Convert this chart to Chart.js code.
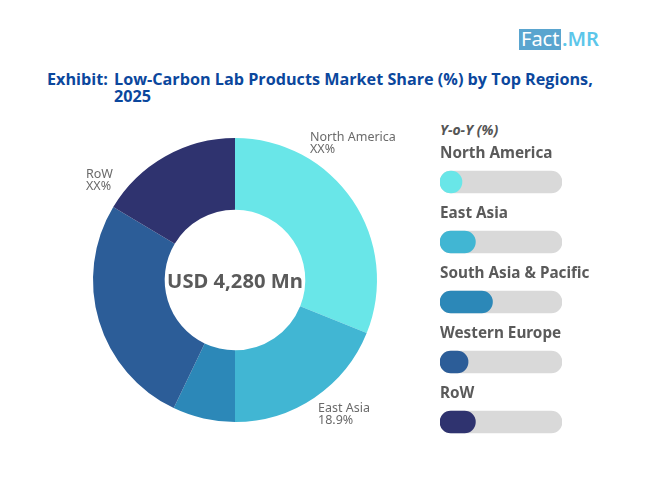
<!DOCTYPE html>
<html>
<head>
<meta charset="utf-8">
<script src="https://cdn.jsdelivr.net/npm/chart.js@4"></script>
<style>
  html, body { margin: 0; padding: 0; background: #fff; }
  body { width: 650px; height: 488px; position: relative; overflow: hidden; font-family: "Open Sans", sans-serif; }
  canvas { position: absolute; }
  .title { position: absolute; color: #0B479D; font-weight: 700; font-size: 16.2px; line-height: 17px; white-space: nowrap; }
  .logo-box { position: absolute; left: 519px; top: 29px; width: 42px; height: 21px; background: #5AA5CF; }
  .logo { position: absolute; top: 27px; font-size: 20px; line-height: 24px; font-family: "Noto Sans", sans-serif; }
  .yoy { position: absolute; left: 440px; top: 120px; font: italic 700 14px "Noto Sans", sans-serif; color: #555; }
</style>
</head>
<body>
<div class="logo-box"></div>
<div class="logo" style="left:521px;color:#fff">Fact</div>
<div class="logo" style="left:562px;color:#5CC6EA;font-weight:600">.MR</div>
<div class="title" style="left:47px;top:71px">Exhibit:</div>
<div class="title" style="left:114px;top:71px">Low-Carbon Lab Products Market Share (%) by Top Regions,<br>2025</div>
<div class="yoy">Y-o-Y (%)</div>
<canvas id="donut" width="650" height="488" style="left:0;top:0"></canvas>
<canvas id="bars" width="190" height="330" style="left:440px;top:130px"></canvas>
<script>
const regions = ['North America', 'East Asia', 'South Asia & Pacific', 'Western Europe', 'RoW'];
const shareValues = [31.1, 18.9, 7.1, 26.5, 16.4];
const yoyValues = [18, 29, 43, 23, 29];
const trackValues = [100, 100, 100, 100, 100];
const colors = ['#69E6E8', '#41B6D3', '#2C88B8', '#2C5D98', '#2F336F'];
const centerText = 'USD 4,280 Mn';

// 只有这三块有文字标注
const sliceNotes = [
  { lines: ['North America', 'XX%'], x: 310, y: 137 },
  { lines: ['East Asia', '18.9%'], x: 318, y: 408 },
  { lines: ['RoW', 'XX%'], x: 86, y: 174 }
];

const donutText = {
  id: 'donutText',
  afterDraw(chart) {
    const { ctx } = chart;
    const arc = chart.getDatasetMeta(0).data[0];
    ctx.save();
    ctx.textBaseline = 'middle';
    ctx.fillStyle = '#5A5A5A';
    ctx.textAlign = 'center';
    ctx.font = '700 20.2px "Noto Sans"';
    ctx.fillText(centerText, arc.x, arc.y + 2);
    ctx.textAlign = 'left';
    ctx.fillStyle = '#6A6A6A';
    ctx.font = '12.5px "Noto Sans"';
    sliceNotes.forEach(n => {
      n.lines.forEach((t, i) => ctx.fillText(t, n.x, n.y + i * 12.8));
    });
    ctx.restore();
  }
};

new Chart(document.getElementById('donut'), {
  type: 'doughnut',
  data: {
    labels: regions,
    datasets: [{ data: shareValues, backgroundColor: colors, borderWidth: 0 }]
  },
  options: {
    responsive: false,
    animation: false,
    cutout: '49.5%',
    layout: { padding: { left: 93, right: 273, top: 138, bottom: 66 } },
    plugins: { legend: { display: false }, tooltip: { enabled: false } }
  },
  plugins: [donutText]
});

// 每行的地区名画在进度条上方
const rowLabels = {
  id: 'rowLabels',
  afterDraw(chart) {
    const { ctx, scales } = chart;
    ctx.save();
    ctx.fillStyle = '#5A5A5A';
    ctx.font = '700 15.3px "Noto Sans"';
    ctx.textBaseline = 'middle';
    regions.forEach((r, i) => {
      ctx.fillText(r, chart.chartArea.left, scales.y.getPixelForValue(i) - 28);
    });
    ctx.restore();
  }
};

new Chart(document.getElementById('bars'), {
  type: 'bar',
  data: {
    labels: regions,
    datasets: [
      { data: yoyValues, backgroundColor: colors, barThickness: 22, borderRadius: 11, borderSkipped: false, grouped: false },
      { data: trackValues, backgroundColor: '#D9D9D9', barThickness: 22, borderRadius: 11, borderSkipped: false, grouped: false }
    ]
  },
  options: {
    responsive: false,
    animation: false,
    indexAxis: 'y',
    layout: { padding: { left: 0, right: 68, top: 22, bottom: 8 } },
    scales: {
      x: { display: false, min: 0, max: 100 },
      y: { display: false }
    },
    plugins: { legend: { display: false }, tooltip: { enabled: false } }
  },
  plugins: [rowLabels]
});
</script>
</body>
</html>
